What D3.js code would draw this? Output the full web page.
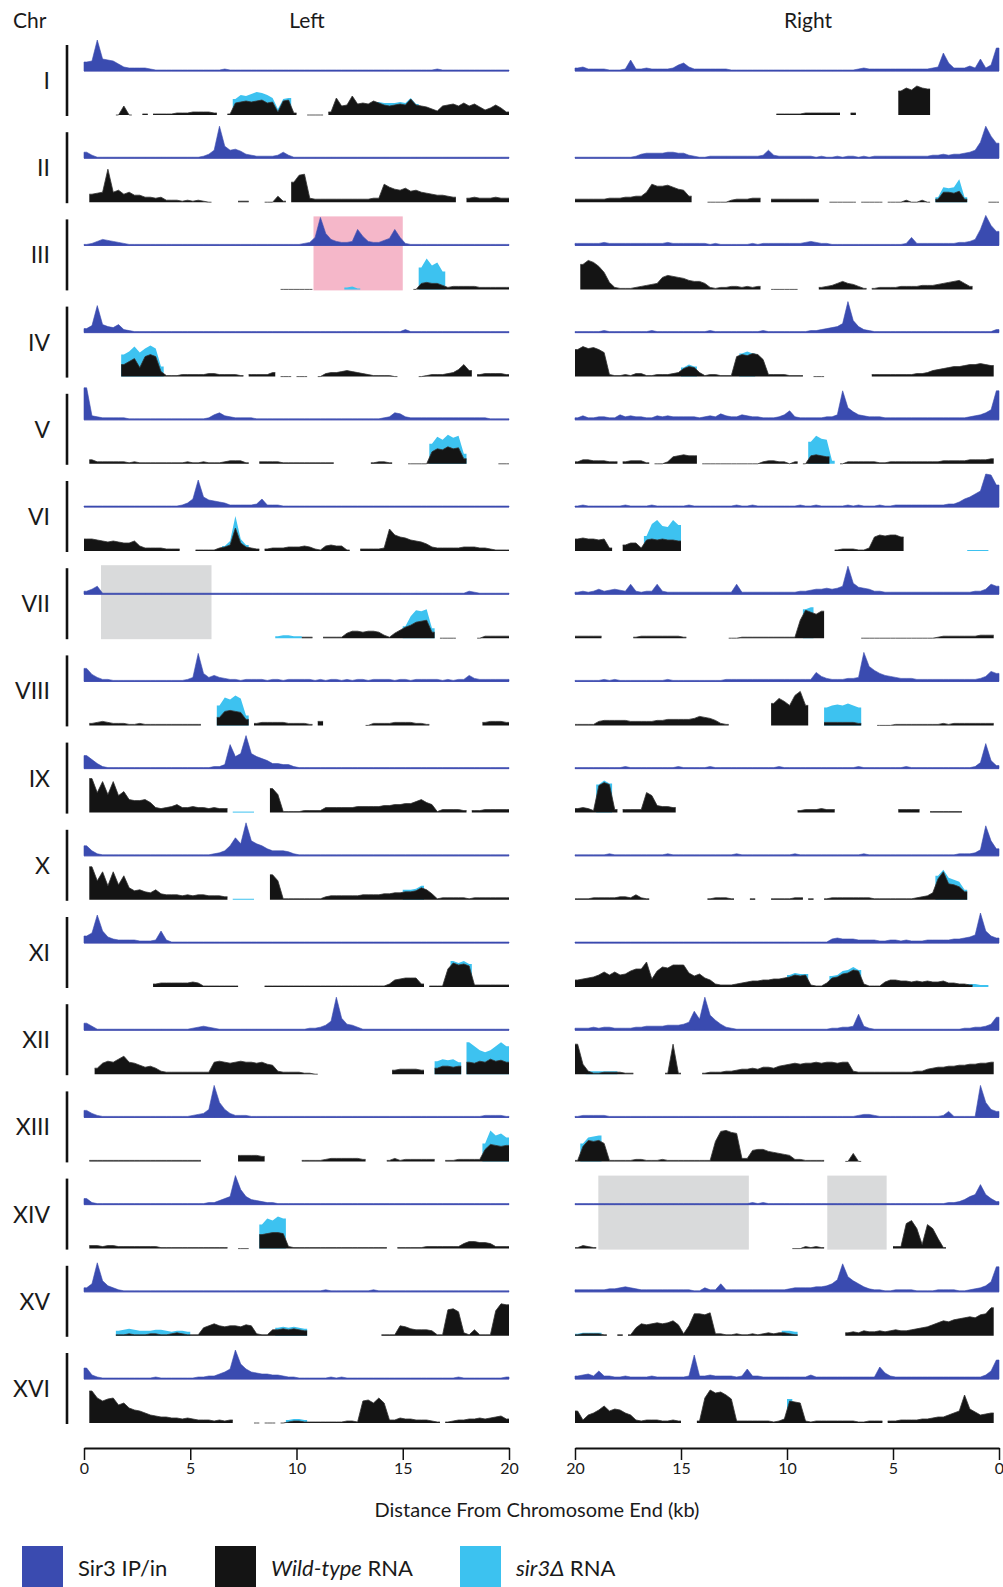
<!DOCTYPE html>
<html>
<head>
<meta charset="utf-8">
<script src="https://cdn.jsdelivr.net/npm/d3@7"></script>
<style>
  body { margin: 0; background: #fff; }
  svg text { font-family: Lato, "Open Sans", sans-serif; fill: #1a1a1a; }
</style>
</head>
<body>
<script>
// Chromosomes (rows) and axis ticks
const chromosomes = ["I","II","III","IV","V","VI","VII","VIII","IX","X","XI","XII","XIII","XIV","XV","XVI"];
const tickValues = [0, 5, 10, 15, 20];
const binKb = 0.25; // each character below is one 0.25 kb bin

// Signal height per bin, base-36 digit ("." = no reads). Groups of 4 = 1 kb.
// Left arm strings run 0 -> 20 kb from the chromosome end.
const sir3Left = [
  "9avc ba74 3333 2111 1111 1111 1121 1111 1111 1111 1111 1111 1111 1111 1111 1111 1121 1111 1111 1111",
  "6311 1111 1111 1111 1111 1124 8wc8 9743 2222 3631 1111 1111 1111 1111 1111 1111 1111 1111 1111 1111",
  "1246 5432 1111 1111 1111 1111 1111 1111 1111 1111 1238 sc64 334g 9433 57g8 2111 1111 1111 1111 1111",
  "47r8 6583 2111 1111 1111 1111 1111 1111 1111 1111 1111 1111 1111 1111 1111 3111 1111 1111 1111 1111",
  "w432 2222 1111 1111 1111 1112 5743 2222 1111 1111 1111 1111 1111 1111 2376 3222 2222 2222 2222 1111",
  "1111 1111 1111 1111 1124 8ra7 6542 2222 3822 2111 1111 1111 1111 1111 1111 1111 1111 1111 1111 1111",
  "3581 1111 1111 1111 1111 1111 1111 1111 1111 1111 1111 1111 1111 1111 1111 1111 1111 1111 3211 1111",
  "d742 2111 1111 1111 1112 4s84 6432 2122 2212 2122 2221 2122 1212 2122 2212 2122 2221 2122 6322 2222",
  "d952 1111 1111 1111 1111 1111 224o cfxf ca85 5442 1111 1111 1111 1111 1111 1111 1111 1111 1111 1111",
  "a521 1111 1111 1111 1111 1111 235a icxf ca75 5542 1111 1111 1111 1111 1111 1111 1111 1111 1111 1111",
  "7asc 6433 3322 23c3 1111 1111 1111 1111 1111 1111 1111 1111 1111 1111 1111 1111 1111 1111 1111 1111",
  "7411 1111 1111 1111 1111 2343 2111 1111 1111 1111 1122 359x c653 1111 1111 1111 1111 1111 1111 1111",
  "7421 1111 1111 1111 1111 2348 wf84 2221 1111 1111 1111 1111 1111 1111 1111 1111 1111 1111 1112 2221",
  "6211 1111 1111 1111 1111 1112 2468 tf85 4322 1111 1111 1111 1111 1111 1111 1111 1111 1111 1111 1111",
  "48tb 6421 1111 1111 1111 1111 1111 1111 1111 1111 1111 1211 1111 1121 1111 1111 1111 1111 1111 1111",
  "b421 1111 1111 1211 1111 1223 357a tfa7 6554 4322 1111 1121 2111 1111 1111 1111 1111 1121 1111 1112"
];
const wtLeft = [
  ".... ..09 0..1 .111 1222 3333 2..1 cded efcd 3ef2 ..00 0.3h 9ajb cbec a9ab aga9 8649 ab9c 9b85 7a73",
  ".89a xac8 a775 5452 2212 1210 .... .11. ..00 61.k rs43 3333 3333 3344 ifdc ebca 9877 65.. 4544 4544",
  ".... .... .... .... .... .... .... .... .... .000 000. .... .... .... .... ..06 7664 2333 3322 2222",
  ".... ...c fi9k mk51 1122 2223 3222 21.2 2224 .00. 00.. 0344 5654 3211 110. ...0 1222 347c 6.23 3332",
  ".422 2222 1211 1111 1112 1121 1123 331. .222 2111 1111 111. .... ..12 21.. .000 0cfe hfg5 .... ..00",
  "ccba 9a98 8a53 3332 22.. .111 1346 n843 2.23 3344 4542 1565 51.. 2222 3mge dba9 7433 3334 4433 2111",
  ".... .... .... .... .... .... .... .... .... .... .11. .111 1577 6776 3158 bdgh i6.0 00.. ..02 2222",
  ".234 3222 1121 1111 1111 11.. .8ef ed6. 2333 3322 221. 4... .... .022 2233 3322 1... .... ...3 4443",
  ".ykv ivhl dccd a545 6855 6554 544. .... ...o i111 1222 2555 5556 6666 7788 99bd a813 3332 .223 3333",
  ".xjs esfo c9a8 7a65 5545 4554 443. .... ...p j111 1111 1344 4444 5555 6677 889c a612 2222 1222 2222",
  ".... .... .... .344 4444 5411 1111 1... ..11 1111 1111 1111 1111 1111 1378 9993 .111 iomn l222 2222",
  "..6b dcfi cb97 8632 2222 2222 cdcb cdcc bca9 3222 2110 .... .... .... ..45 5554 ..68 878. cbdc fdec",
  ".111 1111 1111 1111 1111 11.. .... .666 65.. .... .111 1233 3333 2... .131 2222 22.. 1122 222c hgfg",
  ".332 3322 2222 2211 1111 1111 111. .00. .efg gf21 1111 1111 1111 1111 1..1 1111 2222 2225 7766 5222",
  ".... ..11 2111 2211 2321 118a ca9a a9ba 2116 6767 65.. .... .... .... 111a 9766 6511 qro3 1611 1pwv",
  ".wpm opik fdca 8766 5545 4333 2323 .... 0.00 .012 2111 1111 1221 mnkp k335 4433 321. 1233 4454 5674"
];
const mutLeft = [
  ".... .... .... .... .... .... .... gkjl nmkh 6gh. .... .... .... ...d cccd chb.",
  "",
  ".... .... .... .... .... .... .... .... .... .... .... .... .231 .... .... ...m vori",
  ".... ...m puos vsa.",
  ".... .... .... .... .... .... .... .... .... .... .... .... .... .... .... .... .kro tqsa",
  ".... .... .... .... .... .... ..5a zc6.",
  ".... .... .... .... .... .... .... .... .... 2332 2... .... .... .... .... cmsr ta..",
  ".... .... .... .... .... .... .ksq ura.",
  ".... .... .... .... .... .... .... 1111",
  ".... .... .... .... .... .... .... 1111 .... .... .... .... .... .... .... aabe",
  ".... .... .... .... .... .... .... .... .... .... .... .... .... .... .... .... .... .qoq n...",
  ".... .... .... .... .... .... .... .... .... .... .... .... .... .... .... .... ..df efc. wsom osws",
  ".... .... .... .... .... .... .... .... .... .... .... .... .... .... .... .... .... .... ...i vqso",
  ".... .... .... .... .... .... .... .... .ous wu..",
  ".... ..56 7655 5665 4554 .... .... .... .... 8989 87..",
  ".... .... .... .... .... .... .... .... .... ..34 43.."
];

// Right arm strings run 20 -> 0 kb (as drawn, chromosome end on the right).
const sir3Right = [
  "3422 2211 12b2 2322 2236 8422 2222 2111 1111 1111 1111 1111 1111 1232 2222 2222 2223 4i83 3353 c36n",
  "1111 1111 1112 4555 5665 5321 1222 2222 2223 8322 2222 2121 1212 2121 2222 2222 2223 3434 4568 gwmf",
  "2222 2322 2222 2222 2322 2222 2121 1111 1212 2222 2223 4322 1111 1111 1111 1128 2222 2222 3346 guke",
  "1111 1211 1111 1121 1111 1111 1211 1111 1112 1111 1111 2234 569v c632 1111 1111 1111 1111 1111 1113",
  "2422 3322 5343 3224 3433 3332 3436 4335 4332 2235 9322 2223 35tc 8543 3322 2222 2222 2222 2234 57at",
  "1211 1111 1211 1121 1111 1211 1111 1121 1211 1111 1121 1211 1112 1211 1211 2222 2222 2233 58ad gxwm",
  "2323 5345 43a3 233a 3222 2222 2222 22a2 2222 2222 2233 4556 568s b765 3322 2222 2222 2222 2223 35a8",
  "1111 1212 1111 1111 1211 1111 1111 2222 2222 2222 2222 2953 2223 34tf b865 4333 2222 2222 2222 35a8",
  "1111 1111 1211 1111 1112 1111 1211 1111 1111 1121 1111 1111 1111 1211 1111 1121 1111 1111 1112 6p83",
  "1111 1121 1111 1111 1211 1111 1111 1121 1111 1111 1211 1111 1111 1121 1111 1111 1111 1111 2223 6uf7",
  "1111 1111 1111 1111 1111 1111 1111 1111 1111 1111 1111 1111 4544 4333 3223 3232 2233 3334 4568 uc75",
  "2223 2332 2223 3444 4555 68jb xfa6 3211 1111 1111 1111 1111 2233 4g42 1111 1111 1111 1111 1223 346d",
  "1222 2211 1111 1111 1111 1111 1111 1111 1111 1111 1111 1111 1111 1233 2111 1111 1111 1261 1111 wf86",
  "1111 1111 1111 1111 1111 1111 1111 1111 1212 1111 1111 1111 1111 1111 1111 1111 1111 1122 358a ka63",
  "2222 2233 4543 2222 2222 2211 4228 2222 2222 2222 3444 4556 8csf b853 2211 2222 1111 2222 1123 46ap",
  "3453 8332 2322 2232 2222 23o3 3433 3323 a332 2222 2222 4222 2222 2222 2c63 2222 2222 2222 2222 248j"
];
const wtRight = [
  ".... .... .... .... .... .... .... .... .... ..11 1112 2222 22.. 2... .... .orp trq. .... .... ....",
  "3333 3344 4556 6aig ghfd c6.. .000 0233 344. .333 3333 33.. 0000 0.00 00.0 0020 020. 3aa9 b3.. ..00",
  ".ptr nh72 1112 3456 cedc b988 6212 2332 323. .000 00.. ..23 4686 531. 1222 2333 3444 5678 963. ....",
  "rust ro21 1213 3112 2234 8a94 1221 11km lnmh 2222 111. .00. .... .... 2222 2222 3346 789a abcc dcb.",
  "2443 3322 .233 31.0 0278 988. 0000 0000 0002 3322 02.0 8987 ..02 2222 2112 2222 2222 2333 3344 445.",
  "cdcc bc3. .688 3bcb cbba .... .... .... .... .... .... .... .122 2113 egfg ge.. .... .... .... ....",
  "2222 2... ...1 2222 2222 1... .... .001 1111 1111 11is qor. .... ..00 0000 0000 0000 1222 2222 333.",
  "1111 4555 5544 4445 5666 6679 8752 1... .... .mro kuyk ...3 3333 32.. .000 1111 1111 1212 2222 222.",
  "4542 rus3 .333 3kh7 665. .... .... .... .... .... ..23 3343 3... .... .... .333 3..1 1111 1... ....",
  "1112 2222 3325 21.. .... .... .122 21.. .1.. .111 122. 1..1 2222 2222 1111 1111 2347 lsgf d8.. ....",
  "789a cfcf cdgi ip8g kjmm mebd 9732 2234 5667 7889 acbc 2114 9ade hg31 1157 7665 6565 5644 332. ....",
  "ua31 1222 211. .... .1u1 .... 1222 3345 5657 7689 abab bcbc cbcc 3222 2222 2222 3356 7788 99aa bbc.",
  "1flk li11 1112 2111 2111 1111 11ku vts3 3bcc a987 6221 111. ...0 80.. .... .... .... .... .... ....",
  "1321 .... .... .... .... .... .... .... .... .... .002 121. .... .... .... 22ps k4ok a1.. .... ....",
  "1222 21.. 1.18 cbcd cdfb 2amm ln22 1121 1212 3233 21.. .... ...3 4354 4545 6556 789b dfeg hiji lms.",
  "c38a dhce da83 2333 2232 ...2 pxuv so22 2222 2124 mlk2 1222 2222 2112 22.2 2333 3445 668a cseb 89a."
];
const mutRight = [
  "",
  ".... .... .... .... .... .... .... .... .... .... .... .... .... .... .... .... .... 5fef n5..",
  "",
  ".... .... .... .... .... 9ca. .... ...n pn..",
  ".... .... .... .... .... .... .... .... .... .... .... mspo 3...",
  ".... .... .... .frv povq .... .... .... .... .... .... .... .... .... .... .... .... .... ..11 11..",
  ".... .... .... .... .... .... .... .... .... .... ...t v...",
  ".... .... .... .... .... .... .... .... .... .... .... ...i klkm ki..",
  ".... swt.",
  ".... .... .... .... .... .... .... .... .... .... .... .... .... .... .... .... .... oumk ia..",
  ".... .... .... .... .... .... .... .... .... .... cedd .... bcgh kh.. .... .... .... .... ..33 22..",
  "..33 3333",
  ".iop q...",
  "",
  "2333 3... .... .... .... .... .... .... .... ...5 54..",
  ".... .... .... .... .... .... .... .... .... .... o..."
];

// Shaded regions (kb from the chromosome end)
const shadedRegions = [
  { chr: "III", arm: "left",  start: 10.8, end: 15.0, kind: "highlight" },
  { chr: "VII", arm: "left",  start: 0.8,  end: 6.0,  kind: "gap" },
  { chr: "XIV", arm: "right", start: 11.8, end: 18.9, kind: "gap" },
  { chr: "XIV", arm: "right", start: 5.3,  end: 8.1,  kind: "gap" }
];

const colors = {
  sir3: "#3a4bb0", sir3Line: "#5d5ab4", wt: "#141414", mut: "#3cc2f0",
  highlight: "#f5b7c9", gap: "#d9dadb"
};

const width = 1003;
const height = 1587;

const svg = d3.select("body")
  .append("svg")
  .attr("width", width)
  .attr("height", height);

// soft edge for the sir3 RNA tracks
svg.append("defs").append("filter")
  .attr("id", "soft")
  .append("feGaussianBlur")
  .attr("stdDeviation", 0.7);

const xLeft = d3.scaleLinear().domain([0, 20]).range([84, 509]);
const xRight = d3.scaleLinear().domain([20, 0]).range([575, 999]);
const rowY = d3.scalePoint().domain(chromosomes).range([71, 1379]); // Sir3 baseline
const rnaOffset = 44;
const hScale = d3.scaleLinear().domain([0, 35]).range([0, 35]);

const arms = [
  { name: "left", x: xLeft, sir3: sir3Left, wt: wtLeft, mut: mutLeft },
  { name: "right", x: xRight, sir3: sir3Right, wt: wtRight, mut: mutRight }
];

// turn a bin string into points; each run of bins gets square ends
function decode(str, arm) {
  const chars = str.replace(/\s/g, "").padEnd(80, ".").split("");
  const kbAt = i => arm === "left" ? (i + 0.5) * binKb : 20 - (i + 0.5) * binKb;
  const pts = [];
  chars.forEach((c, i) => {
    const v = c === "." ? null : parseInt(c, 36);
    const prevOn = i > 0 && chars[i - 1] !== ".";
    const nextOn = i < chars.length - 1 && chars[i + 1] !== ".";
    if (v !== null && !prevOn) pts.push({ kb: kbAt(i - 0.5), v: v });
    pts.push({ kb: kbAt(i), v: v });
    if (v !== null && !nextOn) pts.push({ kb: kbAt(i + 0.5), v: v });
  });
  return pts;
}

// Header
svg.append("text").attr("x", 13).attr("y", 28).attr("font-size", 21).text("Chr");
svg.append("text").attr("x", 307).attr("y", 28).attr("font-size", 21)
  .attr("text-anchor", "middle").text("Left");
svg.append("text").attr("x", 808).attr("y", 28).attr("font-size", 21)
  .attr("text-anchor", "middle").text("Right");

// Shaded boxes behind the tracks
shadedRegions.forEach(r => {
  const x = r.arm === "left" ? xLeft : xRight;
  const base = rowY(r.chr);
  const x0 = Math.min(x(r.start), x(r.end));
  const x1 = Math.max(x(r.start), x(r.end));
  svg.append("rect")
    .attr("x", x0)
    .attr("y", base - 29)
    .attr("width", x1 - x0)
    .attr("height", rnaOffset + 30)
    .attr("fill", colors[r.kind]);
});

chromosomes.forEach((chr, ci) => {
  const base = rowY(chr);
  const rnaBase = base + rnaOffset;

  // Row label and bar
  svg.append("text")
    .attr("x", 50)
    .attr("y", base + 18)
    .attr("text-anchor", "end")
    .attr("font-size", 23)
    .text(chr);
  svg.append("line")
    .attr("x1", 67).attr("x2", 67)
    .attr("y1", base - 26).attr("y2", rnaBase + 1)
    .attr("stroke", "#111")
    .attr("stroke-width", 2.6);

  arms.forEach(arm => {
    const x = arm.x;

    // Sir3 IP/input track
    const sir3Pts = decode(arm.sir3[ci], arm.name);
    svg.append("line")
      .attr("x1", x(0)).attr("x2", x(20))
      .attr("y1", base).attr("y2", base)
      .attr("stroke", colors.sir3Line)
      .attr("stroke-width", 1);
    svg.append("path")
      .datum(sir3Pts)
      .attr("fill", colors.sir3)
      .attr("stroke", colors.sir3)
      .attr("stroke-width", 0.6)
      .attr("d", d3.area()
        .defined(d => d.v !== null)
        .x(d => x(d.kb))
        .y0(base)
        .y1(d => base - hScale(d.v)));

    // sir3 delta RNA (behind wild-type)
    const mutPts = decode(arm.mut[ci], arm.name);
    svg.append("path")
      .datum(mutPts)
      .attr("fill", colors.mut)
      .attr("filter", "url(#soft)")
      .attr("d", d3.area()
        .defined(d => d.v !== null)
        .x(d => x(d.kb))
        .y0(rnaBase)
        .y1(d => rnaBase - hScale(d.v)));

    // Wild-type RNA
    const wtPts = decode(arm.wt[ci], arm.name);
    svg.append("path")
      .datum(wtPts)
      .attr("fill", colors.wt)
      .attr("d", d3.area()
        .defined(d => d.v !== null)
        .x(d => x(d.kb))
        .y0(rnaBase)
        .y1(d => rnaBase - hScale(d.v)));
    svg.append("path")
      .datum(wtPts)
      .attr("fill", "none")
      .attr("stroke", "#333")
      .attr("stroke-width", 0.8)
      .attr("d", d3.line()
        .defined(d => d.v !== null)
        .x(d => x(d.kb))
        .y(d => rnaBase - hScale(d.v)));
  });
});

// Axes
const axisY = 1448;
[xLeft, xRight].forEach(x => {
  const g = svg.append("g")
    .attr("transform", `translate(0, ${axisY})`)
    .call(d3.axisBottom(x).tickValues(tickValues).tickSize(12).tickSizeOuter(0));
  g.select(".domain").attr("stroke", "#111").attr("stroke-width", 2);
  g.selectAll(".tick line").attr("stroke", "#111").attr("stroke-width", 1.5);
  g.selectAll(".tick text")
    .attr("font-size", 16)
    .attr("font-family", "Lato, 'Open Sans', sans-serif")
    .attr("fill", "#1a1a1a");
});

svg.append("text")
  .attr("x", 537)
  .attr("y", 1517)
  .attr("text-anchor", "middle")
  .attr("font-size", 20)
  .text("Distance From Chromosome End (kb)");

// Legend
const legendItems = [
  { color: colors.sir3, x: 22, parts: [["Sir3 IP/in", false]] },
  { color: colors.wt, x: 215, parts: [["Wild-type", true], [" RNA", false]] },
  { color: colors.mut, x: 460, parts: [["sir3Δ", true], [" RNA", false]] }
];
legendItems.forEach(item => {
  svg.append("rect")
    .attr("x", item.x)
    .attr("y", 1546)
    .attr("width", 41)
    .attr("height", 41)
    .attr("fill", item.color);
  const t = svg.append("text")
    .attr("x", item.x + 56)
    .attr("y", 1576)
    .attr("font-size", 22);
  item.parts.forEach(([s, it]) => {
    t.append("tspan").attr("font-style", it ? "italic" : "normal").text(s);
  });
});
</script>
</body>
</html>
